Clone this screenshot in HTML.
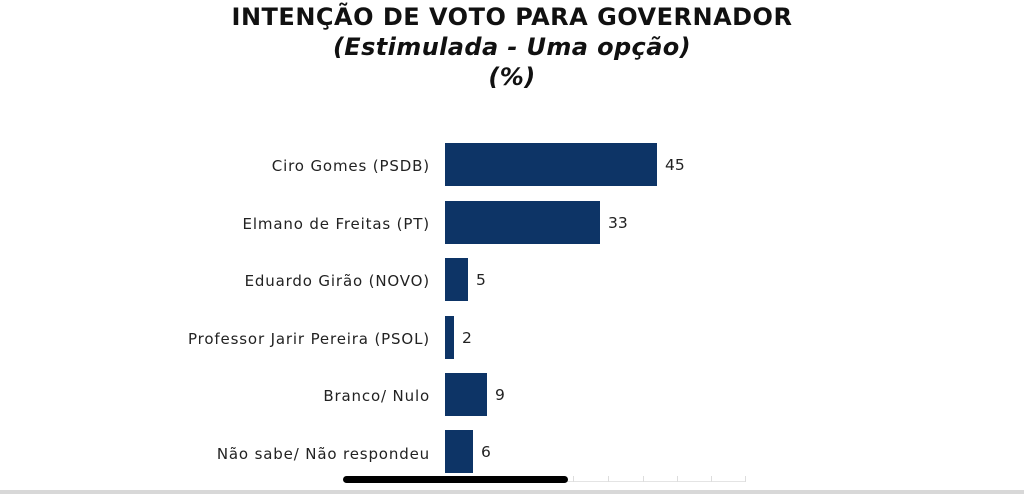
<!DOCTYPE html>
<html><head><meta charset="utf-8"><style>
body{margin:0;width:1024px;height:494px;background:#fff;position:relative;overflow:hidden;font-family:"DejaVu Sans","Liberation Sans",sans-serif;}
.t{position:absolute;left:0;width:1024px;text-align:center;font-weight:bold;color:#111;font-size:24px;letter-spacing:0.5px;}
.i{font-style:italic;letter-spacing:0.4px;}
.l{position:absolute;right:594px;font-size:15px;letter-spacing:0.85px;color:#222;white-space:nowrap;}
.b{position:absolute;left:445px;background:#0d3466;height:43px;}
.v{position:absolute;font-size:15.5px;color:#222;}
.tk{position:absolute;top:476px;width:1px;height:6px;background:#ddd;}
</style></head><body>
<div class="t" style="top:3px">INTENÇÃO DE VOTO PARA GOVERNADOR</div>
<div class="t i" style="top:33px">(Estimulada - Uma opção)</div>
<div class="t i" style="top:63px">(%)</div>

<div class="l" style="top:157px">Ciro Gomes (PSDB)</div>
<div class="b" style="top:143px;width:212px"></div><div class="v" style="left:665px;top:156px">45</div>
<div class="l" style="top:215px">Elmano de Freitas (PT)</div>
<div class="b" style="top:201px;width:155px"></div><div class="v" style="left:608px;top:214px">33</div>
<div class="l" style="top:272px">Eduardo Girão (NOVO)</div>
<div class="b" style="top:258px;width:23px"></div><div class="v" style="left:476px;top:271px">5</div>
<div class="l" style="top:330px">Professor Jarir Pereira (PSOL)</div>
<div class="b" style="top:316px;width:9px"></div><div class="v" style="left:462px;top:329px">2</div>
<div class="l" style="top:387px">Branco/ Nulo</div>
<div class="b" style="top:373px;width:42px"></div><div class="v" style="left:495px;top:386px">9</div>
<div class="l" style="top:445px">Não sabe/ Não respondeu</div>
<div class="b" style="top:430px;width:28px"></div><div class="v" style="left:481px;top:443px">6</div>

<div style="position:absolute;left:400px;top:481px;width:345px;height:1px;background:#e4e4e4"></div>
<div class="tk" style="left:573px"></div><div class="tk" style="left:608px"></div><div class="tk" style="left:643px"></div><div class="tk" style="left:677px"></div><div class="tk" style="left:711px"></div><div class="tk" style="left:745px"></div>
<div style="position:absolute;left:343px;top:476px;width:225px;height:7px;border-radius:4px;background:#000"></div>
<div style="position:absolute;left:0;top:490px;width:1024px;height:4px;background:#d8d8d8"></div>
</body></html>
